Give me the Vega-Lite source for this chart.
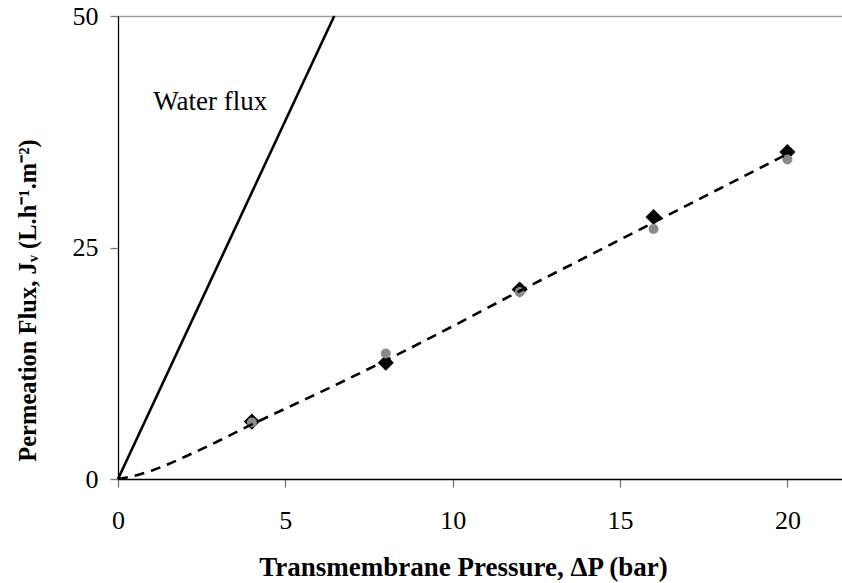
{
  "$schema": "https://vega.github.io/schema/vega-lite/v6.json",
  "autosize": {"type": "none"},
  "padding": {"left": 118, "top": 16, "right": 0, "bottom": 104},
  "width": 724,
  "height": 463,
  "background": "white",
  "config": {
    "view": {"stroke": null},
    "font": "Liberation Serif",
    "axis": {"labelFont": "Liberation Serif", "titleFont": "Liberation Serif"}
  },
  "datasets": {
    "points": [
      {"P": 4, "J": 6.2, "series": "diamond"},
      {"P": 8, "J": 12.55, "series": "diamond"},
      {"P": 12, "J": 20.46, "series": "diamond"},
      {"P": 16, "J": 28.3, "series": "diamond"},
      {"P": 20, "J": 35.3, "series": "diamond"},
      {"P": 4, "J": 6.1, "series": "circle"},
      {"P": 8, "J": 13.56, "series": "circle"},
      {"P": 12, "J": 20.2, "series": "circle"},
      {"P": 16, "J": 27.0, "series": "circle"},
      {"P": 20, "J": 34.5, "series": "circle"}
    ],
    "fit": [
      {"P": 0, "J": 0}, {"P": 0.5, "J": 0.35}, {"P": 1, "J": 0.9}, {"P": 1.5, "J": 1.6},
      {"P": 2, "J": 2.4}, {"P": 3, "J": 4.1}, {"P": 4, "J": 5.9}, {"P": 5, "J": 7.6},
      {"P": 6, "J": 9.3}, {"P": 8, "J": 12.8}, {"P": 10, "J": 16.5}, {"P": 12, "J": 20.3},
      {"P": 14, "J": 24.0}, {"P": 16, "J": 27.7}, {"P": 18, "J": 31.4}, {"P": 20, "J": 35.1}
    ],
    "water": [{"P": 0, "J": 0}, {"P": 6.46, "J": 50}],
    "label": [{"P": 1.05, "J": 39.8, "text": "Water flux"}]
  },
  "layer": [
    {
      "data": {"name": "points"},
      "transform": [{"filter": "datum.series === 'diamond'"}],
      "mark": {"type": "point", "shape": "diamond", "filled": true, "color": "black", "size": 260, "opacity": 1},
      "encoding": {
        "x": {"field": "P", "type": "quantitative", "scale": {"domain": [0, 21.63], "nice": false},
          "axis": {"values": [0, 5, 10, 15, 20], "title": "Transmembrane Pressure, ΔP (bar)",
            "grid": false, "domainColor": "black", "domainWidth": 1.3, "tickColor": "#777777", "tickSize": 8, "tickWidth": 1.3,
            "labelFont": "Liberation Serif, Times New Roman, serif", "labelFontSize": 26, "labelColor": "black", "labelPadding": 20, "labelFlush": false,
            "titleFont": "Liberation Serif", "titleFontSize": 27, "titleFontWeight": "bold", "titleColor": "black",
            "titleX": 345, "titleY": 96, "titleBaseline": "alphabetic"}},
        "y": {"field": "J", "type": "quantitative", "scale": {"domain": [0, 50], "nice": false},
          "axis": {"values": [0, 25, 50], "title": "Permeation Flux, Jᵥ (L.h⁻¹.m⁻²)",
            "grid": true, "gridColor": "#a0a0a0", "gridWidth": 1.5,
            "gridOpacity": {"condition": {"test": "datum.value === 50", "value": 1}, "value": 0},
            "domainColor": "black", "domainWidth": 1.3, "tickColor": "#777777", "tickSize": 8, "tickWidth": 1.3,
            "labelFont": "Liberation Serif, Times New Roman, serif", "labelFontSize": 26, "labelColor": "black", "labelPadding": 12, "labelFlush": false,
            "titleFont": "Liberation Serif", "titleFontSize": 24.5, "titleFontWeight": "bold", "titleColor": "black",
            "titleX": -90, "titleY": 284, "titleBaseline": "middle", "titleAngle": -90}}
      }
    },
    {
      "data": {"name": "points"},
      "transform": [{"filter": "datum.series === 'circle'"}],
      "mark": {"type": "point", "shape": "circle", "filled": true, "color": "#8a8a8a", "size": 100, "opacity": 1},
      "encoding": {
        "x": {"field": "P", "type": "quantitative"},
        "y": {"field": "J", "type": "quantitative"}
      }
    },
    {
      "data": {"name": "fit"},
      "mark": {"type": "line", "color": "black", "strokeWidth": 2.6, "strokeDash": [10, 7], "interpolate": "monotone"},
      "encoding": {
        "x": {"field": "P", "type": "quantitative"},
        "y": {"field": "J", "type": "quantitative"}
      }
    },
    {
      "data": {"name": "water"},
      "mark": {"type": "line", "color": "black", "strokeWidth": 2.6},
      "encoding": {
        "x": {"field": "P", "type": "quantitative"},
        "y": {"field": "J", "type": "quantitative"}
      }
    },
    {
      "data": {"name": "label"},
      "mark": {"type": "text", "align": "left", "baseline": "alphabetic", "fontSize": 27, "font": "Liberation Serif", "color": "black"},
      "encoding": {
        "x": {"field": "P", "type": "quantitative"},
        "y": {"field": "J", "type": "quantitative"},
        "text": {"field": "text"}
      }
    }
  ]
}
